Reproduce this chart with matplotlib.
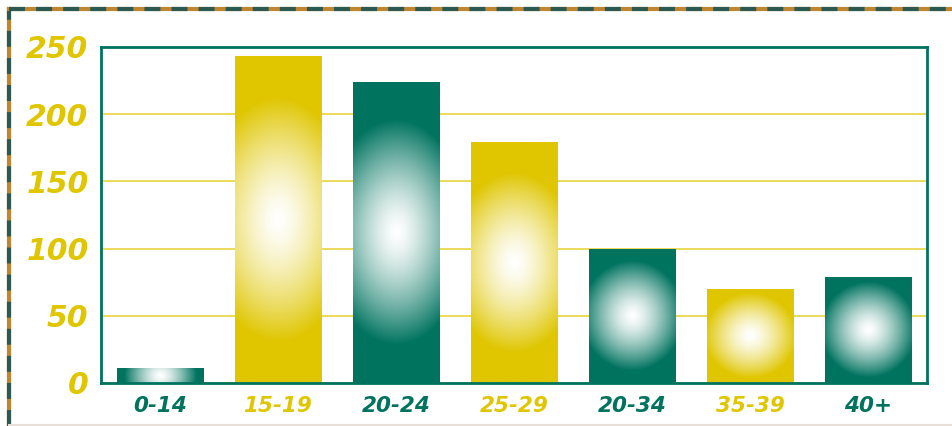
import numpy as np
import matplotlib.pyplot as plt
from matplotlib.colors import to_rgb
from matplotlib.lines import Line2D

plt.rcParams['lines.scale_dashes'] = False

age_groups = ['0-14', '15-19', '20-24', '25-29', '20-34', '35-39', '40+']
counts = [11, 243, 224, 179, 100, 70, 79]
y_ticks = [0, 50, 100, 150, 200, 250]

GREEN = '#00735f'
YELLOW = '#dfc600'
GRID = '#e6d440'
bar_colors = [GREEN, YELLOW, GREEN, YELLOW, GREEN, YELLOW, GREEN]


def radial_fill(ax, patch, base):
    '''
    Paint a white glow over a bar, centred in the bar.
    Radii are worked out in pixels so short and tall bars look alike.
    '''
    x0, w = patch.get_x(), patch.get_width()
    h = patch.get_height()
    (px0, py0), (px1, py1) = ax.transData.transform([(x0, 0), (x0 + w, h)])
    hw, hh = (px1 - px0) / 2, (py1 - py0) / 2
    rx = 0.8 * hw + 0.25 * hh
    ry = max(0.75 * hh, min(0.9 * hh, 55), 30)
    nx, ny = 80, 240
    xx, yy = np.meshgrid(np.linspace(-hw, hw, nx), np.linspace(-hh, hh, ny))
    r = np.sqrt((xx / rx) ** 2 + (yy / ry) ** 2)
    t = np.clip(r, 0, 1) ** 1.4
    base_rgb = np.array(to_rgb(base))
    img = (1 - t[..., None]) * np.ones(3) + t[..., None] * base_rgb
    im = ax.imshow(img, extent=(x0, x0 + w, 0, h), origin='lower',
                   aspect='auto', interpolation='bilinear', zorder=3)
    im.set_clip_path(patch)


fig = plt.figure(figsize=(9.52, 4.26), dpi=100)
ax = fig.add_axes([101 / 952, 1 - 383 / 426, 826 / 952, 336 / 426])

x = np.arange(len(age_groups))
ax.set_xlim(-0.5, len(age_groups) - 0.5)
ax.set_ylim(0, 250)
bars = ax.bar(x, counts, width=0.73, color=bar_colors, zorder=2)
for patch, col in zip(bars, bar_colors):
    radial_fill(ax, patch, col)

ax.set_yticks(y_ticks)
ax.set_yticklabels([str(v) for v in y_ticks])
ax.set_xticks(x)
ax.set_xticklabels(age_groups)
ax.yaxis.grid(True, color=GRID, lw=1.2)
ax.set_axisbelow(True)
ax.tick_params(axis='both', length=0)
ax.tick_params(axis='y', pad=9)
ax.tick_params(axis='x', pad=9)
for lab in ax.get_yticklabels():
    lab.set_fontsize(21.5)
    lab.set_fontweight('bold')
    lab.set_fontstyle('italic')
    lab.set_color(YELLOW)
for lab, col in zip(ax.get_xticklabels(), bar_colors):
    lab.set_fontsize(15.5)
    lab.set_fontweight('bold')
    lab.set_fontstyle('italic')
    lab.set_color(col)
for sp in ax.spines.values():
    sp.set_color(GREEN)
    sp.set_linewidth(2)
    sp.set_zorder(4)

# dashed frame around the figure
for xs, ys in [((0.009, 0.009), (0, 0.98)), ((0.009, 1.0), (0.98, 0.98))]:
    fig.add_artist(Line2D(xs, ys, transform=fig.transFigure,
                          color='#c08530', lw=3))
    fig.add_artist(Line2D(xs, ys, transform=fig.transFigure,
                          color='#2d5a50', lw=3, dashes=(11.5, 8)))
fig.add_artist(Line2D((0.009, 1.0), (0.002, 0.002), transform=fig.transFigure,
                      color='#e8e0d8', lw=1.5))

fig.savefig('out.png', dpi=100)
